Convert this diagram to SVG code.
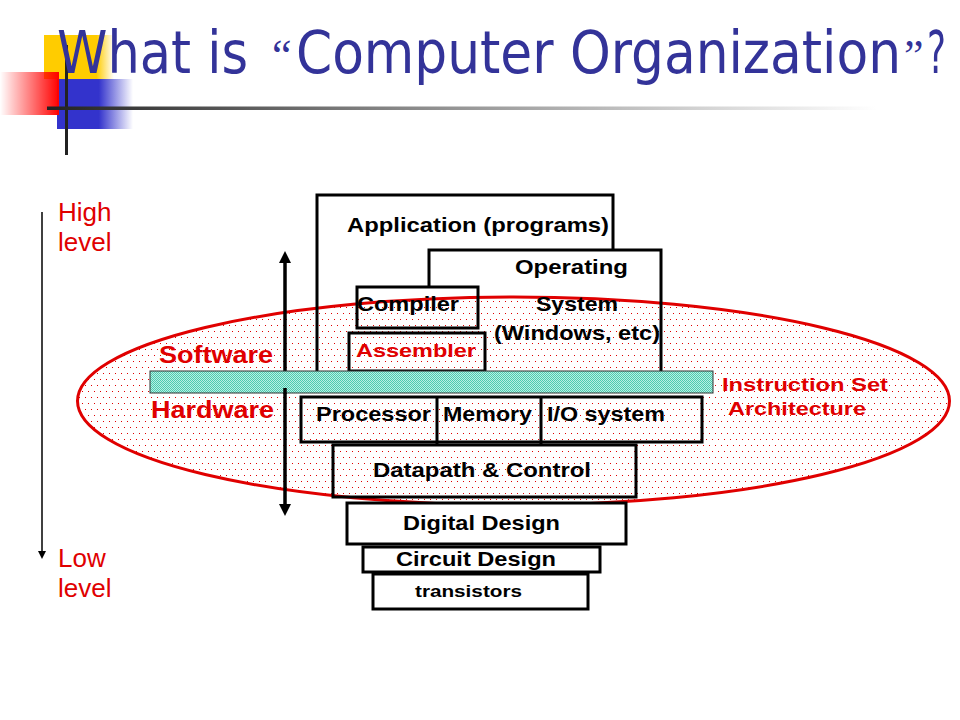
<svg xmlns="http://www.w3.org/2000/svg" width="960" height="720" viewBox="0 0 960 720">
<defs>
<style>
.box{fill:none;stroke:#000;stroke-width:3}
.wbox{fill:#fff;stroke:#000;stroke-width:3}
.lbl{font-family:"Liberation Sans",Arial,sans-serif;font-weight:bold;fill:#000}
.red{fill:#E00000}
.lvl{font-family:"Liberation Sans",Arial,sans-serif;font-size:26px;fill:#E00000}
.ttl{font-family:"DejaVu Sans Condensed","DejaVu Sans",Tahoma,sans-serif;font-stretch:condensed;font-size:58px;fill:#333399}
.q{font-family:"Liberation Serif","Times New Roman",serif;font-size:44px;fill:#333399}
</style>
<pattern id="dots" width="12" height="12" patternUnits="userSpaceOnUse">
<rect width="12" height="12" fill="#fff"/>
<rect x="1" y="1" width="1" height="1" fill="#E00000"/>
<rect x="7" y="1" width="1" height="1" fill="#E00000"/>
<rect x="4" y="7" width="1" height="1" fill="#E00000"/>
<rect x="10" y="7" width="1" height="1" fill="#E00000"/>
</pattern>
<pattern id="teal" width="2" height="2" patternUnits="userSpaceOnUse">
<rect width="2" height="2" fill="#B8EFE3"/>
<rect width="1" height="1" fill="#4CCBB0"/>
<rect x="1" y="1" width="1" height="1" fill="#4CCBB0"/>
</pattern>
<linearGradient id="gy" x1="0" x2="1" y1="0" y2="0">
<stop offset="0" stop-color="#FFCC00"/>
<stop offset="0.75" stop-color="#FFCC00"/>
<stop offset="1" stop-color="#FFCC00" stop-opacity="0"/>
</linearGradient>
<linearGradient id="gr" x1="0" x2="1" y1="0" y2="0">
<stop offset="0" stop-color="#FF0000" stop-opacity="0"/>
<stop offset="1" stop-color="#FF0000"/>
</linearGradient>
<linearGradient id="gb" x1="0" x2="1" y1="0" y2="0">
<stop offset="0" stop-color="#3333CC"/>
<stop offset="0.55" stop-color="#3333CC"/>
<stop offset="1" stop-color="#3333CC" stop-opacity="0"/>
</linearGradient>
<linearGradient id="gl" x1="0" x2="1" y1="0" y2="0">
<stop offset="0" stop-color="#222"/>
<stop offset="0.35" stop-color="#777"/>
<stop offset="1" stop-color="#fff"/>
</linearGradient>
<marker id="ah" viewBox="0 0 12 12" refX="1" refY="6" markerWidth="12" markerHeight="12" markerUnits="userSpaceOnUse" orient="auto-start-reverse">
<path d="M0,0 L12,6 L0,12 z" fill="#000"/>
</marker>
<marker id="ahs" viewBox="0 0 8 8" refX="0" refY="4" markerWidth="8" markerHeight="8" markerUnits="userSpaceOnUse" orient="auto">
<path d="M0,0 L8,4 L0,8 z" fill="#000"/>
</marker>
</defs>
<rect width="960" height="720" fill="#fff"/>

<g id="decoration">
<rect x="44" y="35" width="70" height="44" fill="url(#gy)"/>
<rect x="57" y="79" width="76" height="50" fill="url(#gb)"/>
<rect x="0" y="72" width="59" height="43" fill="url(#gr)"/>
<rect x="65" y="45" width="3" height="110" fill="#222"/>
<rect x="47" y="106.5" width="830" height="3.5" fill="url(#gl)"/>
</g>

<g id="title">
<text class="ttl" x="57" y="73" textLength="191" lengthAdjust="spacingAndGlyphs">What is</text>
<text class="q" x="272" y="70">“</text>
<text class="ttl" x="296" y="73" textLength="605" lengthAdjust="spacingAndGlyphs">Computer Organization</text>
<text class="q" x="904" y="70">”</text>
<text class="ttl" x="927" y="73" textLength="19" lengthAdjust="spacingAndGlyphs">?</text>
</g>

<g id="isa-ellipse">
<ellipse cx="513.5" cy="401" rx="436" ry="104" fill="url(#dots)" stroke="#E00000" stroke-width="3"/>
</g>

<g id="level-labels">
<text class="lvl" x="58" y="221">High</text>
<text class="lvl" x="58" y="251">level</text>
<text class="lvl" x="58" y="567">Low</text>
<text class="lvl" x="58" y="597">level</text>
</g>

<g id="application">
<path class="box" d="M317,371 V195 H613 V249"/>
<text class="lbl" x="347" y="232" font-size="21" textLength="262" lengthAdjust="spacingAndGlyphs">Application (programs)</text>
</g>
<g id="operating-system">
<path class="box" d="M429,287 V250 H661 V371"/>
<text class="lbl" x="515" y="274" font-size="21" textLength="113" lengthAdjust="spacingAndGlyphs">Operating</text>
<text class="lbl" x="536" y="311" font-size="21" textLength="82" lengthAdjust="spacingAndGlyphs">System</text>
<text class="lbl" x="494" y="340" font-size="21" textLength="166" lengthAdjust="spacingAndGlyphs">(Windows, etc)</text>
</g>
<g id="compiler">
<rect class="box" x="357" y="287" width="121" height="41"/>
<text class="lbl" x="357" y="311" font-size="21" textLength="102" lengthAdjust="spacingAndGlyphs">Compiler</text>
</g>
<g id="assembler">
<rect class="box" x="349" y="333" width="136" height="38"/>
<text class="lbl red" x="356" y="357" font-size="19" textLength="120" lengthAdjust="spacingAndGlyphs">Assembler</text>
</g>

<g id="hw-sw-labels">
<text class="lbl red" x="159" y="363" font-size="24" textLength="114" lengthAdjust="spacingAndGlyphs">Software</text>
<text class="lbl red" x="151" y="418" font-size="24" textLength="123" lengthAdjust="spacingAndGlyphs">Hardware</text>
</g>

<g id="connectors">
<line x1="285" y1="262" x2="285" y2="505" stroke="#000" stroke-width="3.5" marker-start="url(#ah)" marker-end="url(#ah)"/>
<line x1="42" y1="212" x2="42" y2="551" stroke="#000" stroke-width="1.5" marker-end="url(#ahs)"/>
</g>

<g id="isa-bar">
<rect x="150" y="371" width="563" height="22" fill="url(#teal)" stroke="#333" stroke-width="1"/>
<line x1="285" y1="388" x2="285" y2="394" stroke="#000" stroke-width="3.5"/>
</g>
<g id="isa-label">
<text class="lbl red" x="722" y="391" font-size="19" textLength="166" lengthAdjust="spacingAndGlyphs">Instruction Set</text>
<text class="lbl red" x="728" y="415" font-size="19" textLength="138" lengthAdjust="spacingAndGlyphs">Architecture</text>
</g>

<g id="processor-memory-io">
<rect class="box" x="301" y="397" width="401" height="45"/>
<line x1="437" y1="397" x2="437" y2="446" stroke="#000" stroke-width="3"/>
<line x1="541" y1="397" x2="541" y2="446" stroke="#000" stroke-width="3"/>
<text class="lbl" x="316" y="421" font-size="21" textLength="115" lengthAdjust="spacingAndGlyphs">Processor</text>
<text class="lbl" x="443" y="421" font-size="21" textLength="89" lengthAdjust="spacingAndGlyphs">Memory</text>
<text class="lbl" x="547" y="421" font-size="21" textLength="118" lengthAdjust="spacingAndGlyphs">I/O system</text>
</g>
<g id="datapath-control">
<rect class="box" x="333" y="445" width="303" height="52"/>
<text class="lbl" x="373" y="477" font-size="21" textLength="218" lengthAdjust="spacingAndGlyphs">Datapath &amp; Control</text>
</g>
<g id="digital-design">
<rect class="wbox" x="347" y="503" width="279" height="41"/>
<text class="lbl" x="403" y="530" font-size="21" textLength="157" lengthAdjust="spacingAndGlyphs">Digital Design</text>
</g>
<g id="circuit-design">
<rect class="wbox" x="363" y="547" width="237" height="25"/>
<text class="lbl" x="396" y="566" font-size="21" textLength="160" lengthAdjust="spacingAndGlyphs">Circuit Design</text>
</g>
<g id="transistors">
<rect class="wbox" x="373" y="574" width="215" height="35"/>
<text class="lbl" x="415" y="597" font-size="17" textLength="107" lengthAdjust="spacingAndGlyphs">transistors</text>
</g>
</svg>
